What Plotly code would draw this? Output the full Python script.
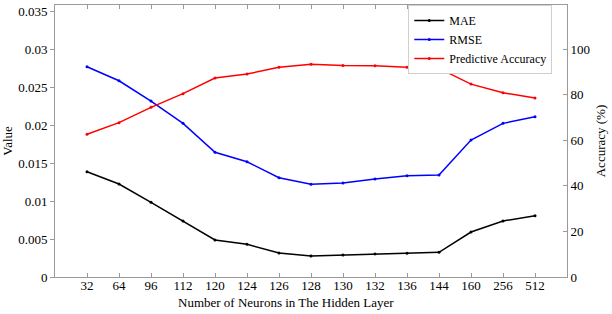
import plotly.graph_objects as go

neurons = ["32", "64", "96", "112", "120", "124", "126", "128", "130", "132", "136", "144", "160", "256", "512"]
mae = [0.01386, 0.01224, 0.00983, 0.00737, 0.00487, 0.00430, 0.00316, 0.00276, 0.00290,
       0.00303, 0.00312, 0.00325, 0.00592, 0.00737, 0.00807]
rmse = [0.02767, 0.02583, 0.02316, 0.02022, 0.01641, 0.01517, 0.01307, 0.01220, 0.01237,
        0.01290, 0.01333, 0.01342, 0.01803, 0.02022, 0.02110]
accuracy = [62.6, 67.7, 74.4, 80.4, 87.3, 89.0, 92.0, 93.3, 92.8, 92.7, 92.0, 91.5, 84.6, 80.8, 78.5]

left_ticks = [0, 0.005, 0.01, 0.015, 0.02, 0.025, 0.03, 0.035]
left_ticktext = ["0", "0.005", "0.01", "0.015", "0.02", "0.025", "0.03", "0.035"]
right_ticks = [0, 20, 40, 60, 80, 100]

FONT = "Liberation Serif"
AXIS_COLOR = "#9a9a9a"

fig = go.Figure()
fig.add_trace(go.Scatter(x=neurons, y=mae, name="MAE", mode="lines+markers",
                         line=dict(color="black", width=1.5), marker=dict(size=3, color="black")))
fig.add_trace(go.Scatter(x=neurons, y=rmse, name="RMSE", mode="lines+markers",
                         line=dict(color="#0000ff", width=1.5), marker=dict(size=3, color="#0000ff")))
fig.add_trace(go.Scatter(x=neurons, y=accuracy, name="Predictive Accuracy", mode="lines+markers",
                         yaxis="y2",
                         line=dict(color="#ff0000", width=1.5), marker=dict(size=3, color="#ff0000")))

fig.update_layout(
    width=612, height=314,
    margin=dict(l=48, r=45, t=4, b=37),
    paper_bgcolor="white", plot_bgcolor="white",
    font=dict(family=FONT, size=13, color="black"),
    showlegend=True,
    legend=dict(x=0.69, y=1.0, xanchor="left", yanchor="top",
                bgcolor="white", bordercolor="#cfcfcf", borderwidth=1,
                font=dict(family=FONT, size=12), tracegroupgap=0, itemwidth=30),
    xaxis=dict(type="category", range=[-1, 15], showgrid=False, zeroline=False,
               showline=True, linecolor=AXIS_COLOR, linewidth=1, mirror="ticks",
               ticks="inside", ticklen=4, tickcolor=AXIS_COLOR, ticklabelstandoff=-4,
               tickfont=dict(family=FONT, size=13)),
    yaxis=dict(range=[0, 0.0358], tickvals=left_ticks, ticktext=left_ticktext,
               showgrid=False, zeroline=False, showline=True, linecolor=AXIS_COLOR,
               linewidth=1, ticks="outside", ticklen=4, tickcolor=AXIS_COLOR,
               tickfont=dict(family=FONT, size=13),
               title=dict(text="Value", font=dict(family=FONT, size=13), standoff=5)),
    yaxis2=dict(range=[0, 119.3], tickvals=right_ticks, overlaying="y", side="right",
                anchor="x", showgrid=False, zeroline=False, showline=True,
                linecolor=AXIS_COLOR, linewidth=1, ticks="inside", ticklen=4,
                tickcolor=AXIS_COLOR, tickfont=dict(family=FONT, size=13),
                title=dict(text="Accuracy (%)", font=dict(family=FONT, size=13), standoff=6)),
    annotations=[dict(text="Number of Neurons in The Hidden Layer", xref="paper", yref="paper",
                      x=(282 - 48) / 519, y=-0.058, xanchor="center", yanchor="top",
                      showarrow=False, font=dict(family=FONT, size=13))],
)

fig.write_html("out.html")
